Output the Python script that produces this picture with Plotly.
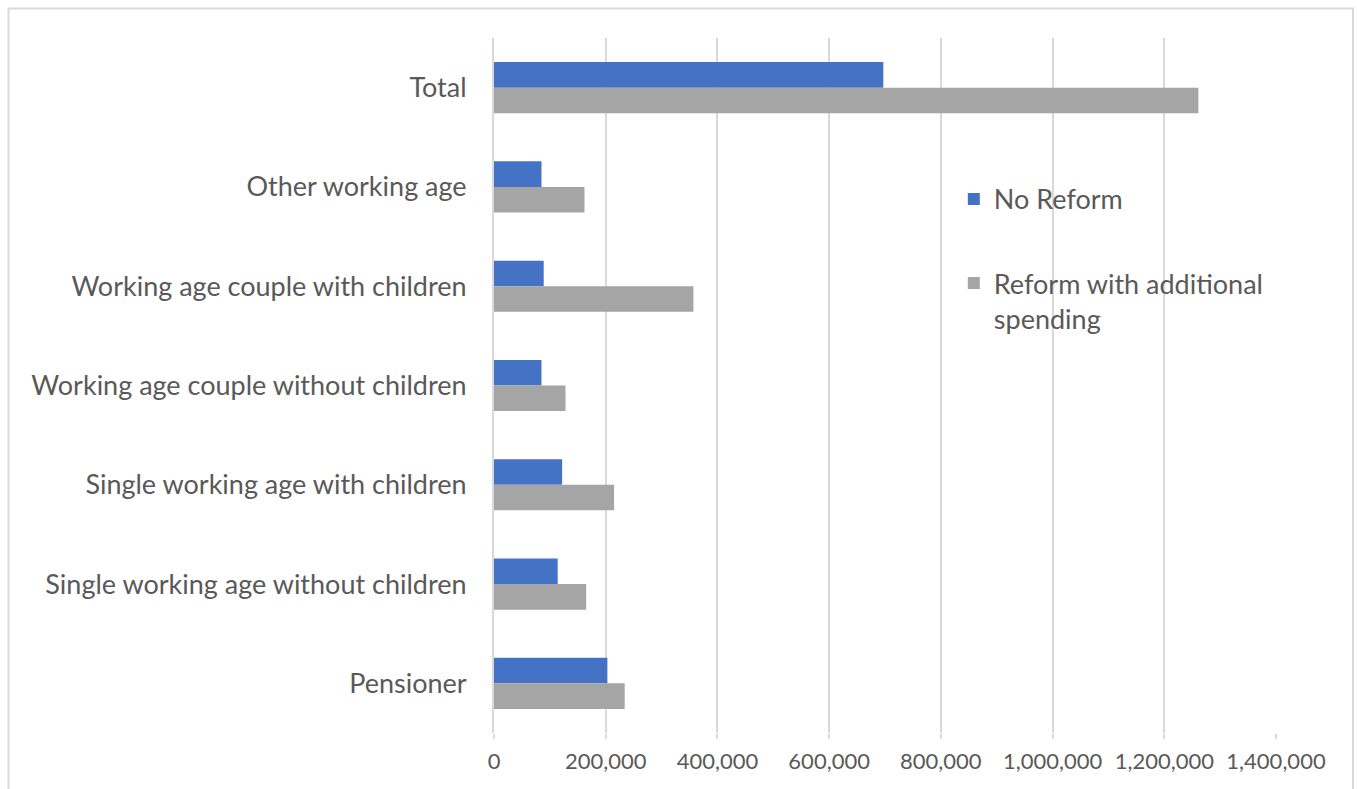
import plotly.graph_objects as go

# Household types, top to bottom
categories = [
    "Total",
    "Other working age",
    "Working age couple with children",
    "Working age couple without children",
    "Single working age with children",
    "Single working age without children",
    "Pensioner",
]

no_reform = [697000, 85000, 89000, 85000, 122000, 114000, 203000]
reform_additional = [1261000, 162000, 357000, 128000, 215000, 165000, 234000]

x_ticks = [0, 200000, 400000, 600000, 800000, 1000000, 1200000, 1400000]

FONT = "Lato"
TEXT = "#595959"
GRID = "#d9d9d9"

fig = go.Figure()
fig.add_trace(go.Bar(
    y=categories, x=no_reform, orientation="h",
    name="No Reform", marker=dict(color="#4472c4", line=dict(width=0)),
    legendgroup="a",
))
fig.add_trace(go.Bar(
    y=categories, x=reform_additional, orientation="h",
    name="Reform with additional<br>spending", marker=dict(color="#a5a5a5", line=dict(width=0)),
    legendgroup="b",
))

fig.update_layout(
    width=1357, height=789,
    margin=dict(l=494, r=81, t=38, b=56, autoexpand=False),
    paper_bgcolor="white", plot_bgcolor="white",
    barmode="group", bargap=0.485, bargroupgap=0,
    font=dict(family=FONT, color=TEXT),
    showlegend=True,
    legend=dict(
        x=0.588, y=0.803, xanchor="left", yanchor="top",
        font=dict(family=FONT, size=27, color=TEXT),
        tracegroupgap=46, bgcolor="rgba(0,0,0,0)",
        itemsizing="constant", valign="top",
    ),
    xaxis=dict(
        range=[0, 1400000], tickvals=x_ticks, tickformat=",d",
        showgrid=True, gridcolor=GRID, gridwidth=2,
        zeroline=False, showline=False,
        ticks="outside", ticklen=5, tickcolor=GRID, tickwidth=2,
        tickfont=dict(family=FONT, size=22, color=TEXT),
        ticklabelstandoff=4,
    ),
    yaxis=dict(
        categoryorder="array", categoryarray=categories,
        autorange="reversed",
        showgrid=False, zeroline=False,
        showline=True, linecolor=GRID, linewidth=2,
        ticks="", tickfont=dict(family=FONT, size=27, color=TEXT),
        ticklabelstandoff=20,
    ),
    shapes=[dict(
        type="rect", xref="paper", yref="paper",
        x0=(8.5 - 494) / 782, x1=(1353 - 494) / 782,
        y0=-0.2, y1=1 + (38 - 8.5) / 695,
        line=dict(color=GRID, width=2), fillcolor="rgba(0,0,0,0)",
        layer="below",
    )],
)

fig.write_html("out.html")
